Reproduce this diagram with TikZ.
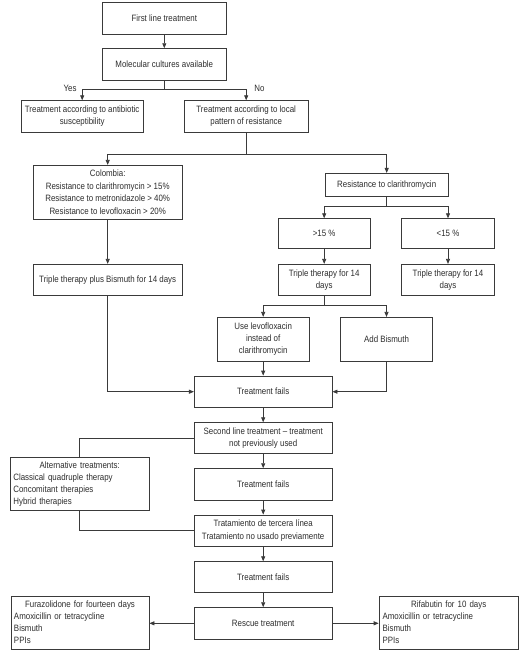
\documentclass[tikz,border=0pt]{standalone}
\usepackage{fontspec}
\setmainfont{Liberation Sans}[FakeStretch=0.86]
\usetikzlibrary{arrows.meta}
\definecolor{linec}{HTML}{3A3A3A}
\definecolor{textc}{HTML}{2E2E2E}
\begin{document}
\begin{tikzpicture}[x=1pt,y=-1pt,
  box/.style={draw=linec, line width=0.8pt, text=textc, inner sep=2pt, align=center, font=\fontsize{9.2}{12.2}\selectfont},
  lbox/.style={box, align=left, inner xsep=3pt, font=\fontsize{9.2}{12}\selectfont},
  arr/.style={draw=linec, line width=0.8pt, -{Triangle[length=5pt,width=4pt]}},
  ln/.style={draw=linec, line width=0.8pt},
  lbl/.style={text=textc, font=\fontsize{9.2}{12}\selectfont, inner sep=0pt}]
\useasboundingbox (0,0) rectangle (530,654);
\fill[white] (0,0) rectangle (530,654);

\node[box, minimum width=123.3pt, minimum height=31.3pt] (first) at (164.3,18.3) {First line treatment};
\node[box, minimum width=123.3pt, minimum height=31.3pt] (mol) at (164.3,64.3) {Molecular cultures available};
\node[box, minimum width=122.3pt, minimum height=31.6pt] (yesb) at (82.2,116.5) {Treatment according to antibiotic\\susceptibility};
\node[box, minimum width=123.7pt, minimum height=31.6pt] (local) at (246.2,116.5) {Treatment according to local\\pattern of resistance};
\node[box, minimum width=148.7pt, minimum height=54pt, font=\fontsize{9.2}{12.8}\selectfont] (col) at (107.7,192.3) {Colombia:\\Resistance to clarithromycin > 15\%\\Resistance to metronidazole > 40\%\\Resistance to levofloxacin > 20\%};
\node[box, minimum width=123.3pt, minimum height=22.7pt] (resc) at (386.7,184.7) {Resistance to clarithromycin};
\node[box, minimum width=91.7pt, minimum height=30pt] (gt) at (324.2,233.7) {>15 \%};
\node[box, minimum width=92.6pt, minimum height=30pt] (lt) at (448,233.7) {<15 \%};
\node[box, minimum width=91.7pt, minimum height=31pt, font=\fontsize{9.2}{11.7}\selectfont] (trip1) at (324.2,279.8) {Triple therapy for 14\\days};
\node[box, minimum width=92.6pt, minimum height=31pt, font=\fontsize{9.2}{11.7}\selectfont] (trip2) at (448,279.8) {Triple therapy for 14\\days};
\node[box, minimum width=148.7pt, minimum height=31pt] (tripbis) at (107.7,279.8) {Triple therapy plus Bismuth for 14 days};
\node[box, minimum width=92.3pt, minimum height=44pt] (levo) at (263.2,339.3) {Use levofloxacin\\instead of\\clarithromycin};
\node[box, minimum width=92.4pt, minimum height=44pt] (addbis) at (386.5,339.3) {Add Bismuth};
\node[box, minimum width=137.7pt, minimum height=31.3pt] (fails1) at (263.2,391.7) {Treatment fails};
\node[box, minimum width=137.7pt, minimum height=30.6pt] (second) at (263.2,438) {Second line treatment -- treatment\\not previously used};
\node[lbox, text width=132.7pt, minimum height=53.4pt] (alt) at (79.7,484) {\makebox[\hsize]{Alternative treatments:}\\Classical quadruple therapy\\Concomitant therapies\\Hybrid therapies};
\node[box, minimum width=137.7pt, minimum height=31.3pt] (fails2) at (263.2,484.3) {Treatment fails};
\node[box, minimum width=137.7pt, minimum height=31pt] (terc) at (263.2,530.5) {Tratamiento de tercera línea\\Tratamiento no usado previamente};
\node[box, minimum width=137.7pt, minimum height=30.6pt] (fails3) at (263.2,577) {Treatment fails};
\node[box, minimum width=137.7pt, minimum height=31.3pt] (rescue) at (263.2,623.3) {Rescue treatment};
\node[lbox, text width=132pt, minimum height=52.7pt] (fura) at (80,622.7) {\makebox[\hsize]{Furazolidone for fourteen days}\\Amoxicillin or tetracycline\\Bismuth\\PPIs};
\node[lbox, text width=132.3pt, inner xsep=3.5pt, minimum height=52.7pt] (rifa) at (448.7,622.7) {\makebox[\hsize]{Rifabutin for 10 days}\\Amoxicillin or tetracycline\\Bismuth\\PPIs};

\coordinate (s1) at (164.3,89.3);
\coordinate (s2) at (246.2,154);
\coordinate (s3) at (386.7,206.7);
\coordinate (s4) at (324.2,305.3);

\draw[arr] (first) -- (mol);
\draw[arr] (mol.south) -- (s1) -| (yesb.north);
\draw[arr] (s1) -| (local.north);
\node[lbl] (yes) at (70,88.5) {Yes};
\node[lbl] (no) at (259.5,88.5) {No};
\draw[arr] (local.south) -- (s2) -| (col.north);
\draw[arr] (s2) -| (resc.north);
\draw[arr] (col) -- (tripbis);
\draw[arr] (resc.south) -- (s3) -| (gt.north);
\draw[arr] (s3) -| (lt.north);
\draw[arr] (gt) -- (trip1);
\draw[arr] (lt) -- (trip2);
\draw[arr] (trip1.south) -- (s4) -| (levo.north);
\draw[arr] (s4) -| (addbis.north);
\draw[arr] (levo) -- (fails1);
\draw[arr] (tripbis.south) |- (fails1.west);
\draw[arr] (addbis.south) |- (fails1.east);
\draw[arr] (fails1) -- (second);
\draw[ln] (second.west) -| (alt.north);
\draw[arr] (second) -- (fails2);
\draw[arr] (fails2) -- (terc);
\draw[ln] (alt.south) |- (terc.west);
\draw[arr] (terc) -- (fails3);
\draw[arr] (fails3) -- (rescue);
\draw[arr] (rescue.west) -- (rescue.west -| fura.east);
\draw[arr] (rescue.east) -- (rescue.east -| rifa.west);
\end{tikzpicture}
\end{document}
